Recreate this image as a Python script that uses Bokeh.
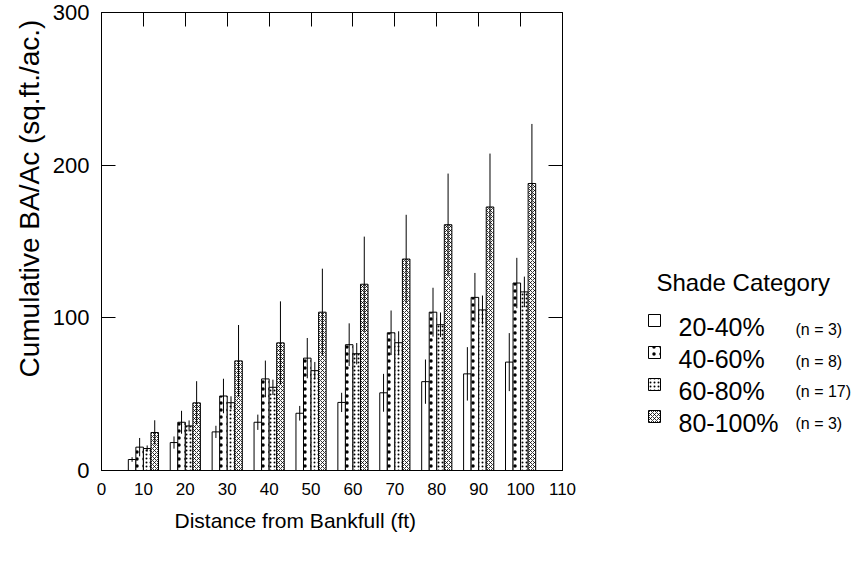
from bokeh.plotting import figure
from bokeh.models import Range1d, LinearAxis, FixedTicker, Title, ColumnDataSource
from bokeh.layouts import row
from bokeh.core.properties import value
from bokeh.embed import file_html
from bokeh.resources import INLINE

# ---- data ----
distances = [10, 20, 30, 40, 50, 60, 70, 80, 90, 100]
categories = ["20-40%", "40-60%", "60-80%", "80-100%"]
n_labels = ["(n = 3)", "(n = 8)", "(n = 17)", "(n = 3)"]

mean_20_40 = [7.2, 18.3, 25.3, 31.6, 37.5, 44.6, 50.9, 58.2, 63.3, 71.0]
err_20_40 = [1.5, 4.0, 4.0, 5.0, 4.8, 6.3, 12.4, 14.5, 17.5, 19.0]
mean_40_60 = [15.3, 31.6, 48.8, 60.0, 73.6, 82.4, 90.2, 103.7, 113.4, 122.8]
err_40_60 = [6.0, 7.5, 11.3, 12.0, 13.2, 14.0, 14.6, 16.0, 16.0, 16.5]
mean_60_80 = [14.4, 29.2, 44.4, 54.5, 65.4, 76.5, 83.7, 95.5, 105.2, 117.0]
err_60_80 = [2.0, 3.6, 4.2, 5.0, 5.7, 7.0, 7.5, 8.0, 9.4, 10.0]
mean_80_100 = [24.9, 44.3, 71.8, 83.6, 103.7, 122.0, 138.5, 161.0, 172.6, 188.0]
err_80_100 = [8.0, 14.2, 23.5, 27.2, 28.5, 31.2, 29.0, 33.5, 35.0, 39.0]

x_ticks = [0, 10, 20, 30, 40, 50, 60, 70, 80, 90, 100, 110]
y_ticks = [0, 100, 200, 300]

means = [mean_20_40, mean_40_60, mean_60_80, mean_80_100]
errs = [err_20_40, err_40_60, err_60_80, err_80_100]

# ---- styling ----
FONT = "Liberation Sans"
offsets = [-2.7, -0.9, 0.9, 2.7]
bar_w = 1.8
hatches = [
    dict(hatch_pattern="blank"),
    dict(hatch_pattern="dot", hatch_scale=7, hatch_weight=1.2),
    dict(hatch_pattern="dot", hatch_scale=4, hatch_weight=1.0),
    dict(hatch_pattern="diagonal_cross", hatch_scale=4, hatch_weight=0.8),
]

p = figure(width=580, height=567, output_backend="svg", toolbar_location=None,
           x_range=Range1d(0, 110), y_range=Range1d(0, 300),
           min_border_left=101, min_border_right=18,
           min_border_top=12, min_border_bottom=97)
p.xgrid.visible = False
p.ygrid.visible = False
p.outline_line_color = "black"
p.outline_line_width = 1
p.background_fill_color = "white"
p.border_fill_color = "white"

# left axis
ya = p.yaxis[0]
ya.ticker = FixedTicker(ticks=y_ticks)
ya.major_tick_in = 14
ya.major_tick_out = 0
ya.minor_tick_line_color = None
ya.axis_line_color = "black"
ya.major_tick_line_color = "black"
ya.major_label_text_font = FONT
ya.major_label_text_font_size = "22px"
ya.major_label_text_color = "black"
ya.major_label_standoff = 12

# bottom axis
xa = p.xaxis[0]
xa.ticker = FixedTicker(ticks=x_ticks)
xa.major_tick_in = 0
xa.major_tick_out = 0
xa.minor_tick_line_color = None
xa.axis_line_color = "black"
xa.major_label_text_font = FONT
xa.major_label_text_font_size = "17px"
xa.major_label_text_color = "black"
xa.major_label_standoff = 12

# top & right axes: inward ticks only, no labels
top = LinearAxis(ticker=FixedTicker(ticks=distances), major_tick_in=14, major_tick_out=0,
                 minor_tick_line_color=None, axis_line_color="black",
                 major_label_overrides={t: "" for t in distances},
                 major_label_text_font_size="1px", major_label_standoff=0)
right = LinearAxis(ticker=FixedTicker(ticks=y_ticks), major_tick_in=14, major_tick_out=0,
                   minor_tick_line_color=None, axis_line_color="black",
                   major_label_overrides={t: "" for t in y_ticks},
                   major_label_text_font_size="1px", major_label_standoff=0)
p.add_layout(top, "above")
p.add_layout(right, "right")

for i in range(4):
    xs = [d + offsets[i] for d in distances]
    src = ColumnDataSource(dict(x=xs, top=means[i],
                                lo=[m - e for m, e in zip(means[i], errs[i])],
                                hi=[m + e for m, e in zip(means[i], errs[i])]))
    p.vbar(x="x", top="top", bottom=0, width=bar_w, source=src,
           fill_color="white", line_color="black", line_width=1,
           hatch_color="black", **hatches[i])
    p.segment(x0="x", y0="lo", x1="x", y1="hi", source=src,
              line_color="black", line_width=1)

# axis titles as side-panel titles
p.add_layout(Title(text="Distance from Bankfull (ft)", align="left", offset=73,
                   standoff=18,
                   text_font=FONT, text_font_size="21px", text_font_style="normal",
                   text_color="black"), "below")
p.add_layout(Title(text="Cumulative BA/Ac (sq.ft./ac.)", align="left", offset=93,
                   text_font=FONT, text_font_size="28px", text_font_style="normal",
                   text_color="black"), "left")

# ---- legend panel (separate figure; its frame is aligned with the main frame,
#      so the y range is given in canvas pixels, top-down) ----
q = figure(width=273, height=567, output_backend="svg", toolbar_location=None,
           x_range=Range1d(17, 290), y_range=Range1d(470, 12),
           min_border=0, outline_line_color=None)
q.axis.visible = False
q.grid.visible = False

row_y = [320, 352, 384, 416]
q.text(x=[93], y=[282], text=["Shade Category"], text_font=value(FONT),
       text_font_size=value("24px"), text_baseline="middle", text_align="left",
       text_color="black")
for i in range(4):
    q.quad(left=[85], right=[97], top=[row_y[i] - 6], bottom=[row_y[i] + 6],
           fill_color="white", line_color="black", line_width=1,
           hatch_color="black", **hatches[i])
q.text(x=[115] * 4, y=[y + 6 for y in row_y], text=categories, text_font=value(FONT),
       text_font_size=value("25px"), text_baseline="middle", text_align="left",
       text_color="black")
q.text(x=[232] * 4, y=[329, 361, 391, 423], text=n_labels, text_font=value(FONT),
       text_font_size=value("16px"), text_baseline="middle", text_align="left",
       text_color="black")

layout = row(p, q, spacing=0)
open("out.html", "w").write(file_html(layout, INLINE))
